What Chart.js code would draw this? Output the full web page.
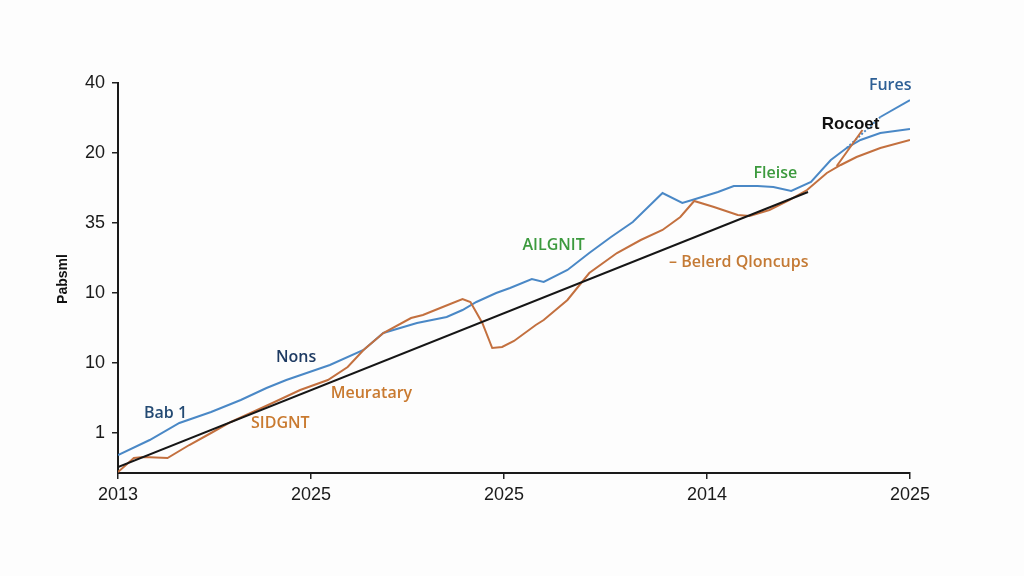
<!DOCTYPE html>
<html>
<head>
<meta charset="utf-8">
<title>Chart</title>
<script src="https://cdn.jsdelivr.net/npm/chart.js@4/dist/chart.umd.min.js"></script>
<style>
    html, body { margin: 0; padding: 0; background: #fdfdfd; }
    #wrap { width: 1024px; height: 576px; position: relative; }
</style>
</head>
<body>
<div id="wrap"><canvas id="chart"></canvas></div>
<script>
// axis labels (as printed on the picture)
const xTickValues = [0, 9.75, 19.5, 29.75, 40];
const xTickLabels = ['2013', '2025', '2025', '2014', '2025'];
const yTickValues = [4, 11, 18, 25, 32, 39];
const yTickLabels = ['1', '10', '10', '35', '20', '40'];
const yTitle = 'Pabsml';

// blue series
const blueX = [0, 1.6, 3.1, 4.7, 6.2, 7.5, 8.5, 10.7, 12.4, 13.4, 15.1, 16.6, 17.4, 18.1, 19.1, 19.8, 20.9, 21.5, 22.7, 23.8, 24.9, 26.0, 27.5, 28.5, 29.0, 30.3, 31.1, 32.3, 33.1, 34.0, 35.0, 36.0, 36.8, 37.5, 38.5, 40];
const blueY = [1.8, 3.3, 5.0, 6.1, 7.3, 8.5, 9.3, 10.8, 12.3, 14.0, 15.0, 15.6, 16.3, 17.1, 18.0, 18.5, 19.4, 19.1, 20.3, 22.0, 23.6, 25.1, 28.0, 27.0, 27.3, 28.1, 28.7, 28.7, 28.6, 28.2, 29.1, 31.3, 32.5, 33.3, 34.0, 34.4];

// upper blue branch ("Fures")
const furesX = [36.8, 38.5, 40];
const furesY = [32.5, 35.6, 37.3];

// orange series
const orangeX = [0, 0.8, 1.3, 2.5, 3.6, 4.7, 5.7, 6.7, 7.8, 9.2, 10.6, 11.6, 12.4, 13.4, 14.8, 15.4, 16.4, 17.4, 17.8, 18.4, 18.9, 19.4, 20.0, 21.1, 21.5, 22.7, 23.8, 25.2, 26.4, 27.5, 28.4, 29.1, 30.1, 31.3, 31.9, 32.9, 33.9, 34.8, 35.8, 36.5, 37.3, 38.5, 40];
const orangeY = [0.1, 1.5, 1.6, 1.5, 2.8, 4.0, 5.1, 6.0, 7.0, 8.3, 9.3, 10.6, 12.3, 14.0, 15.5, 15.8, 16.6, 17.4, 17.1, 15.0, 12.5, 12.6, 13.2, 14.8, 15.3, 17.3, 20.0, 22.0, 23.3, 24.3, 25.6, 27.2, 26.6, 25.8, 25.7, 26.3, 27.3, 28.3, 30.0, 30.8, 31.6, 32.5, 33.3];

// short orange pointer near "Rocoet"
const pointerX = [36.3, 37.6];
const pointerY = [30.7, 34.3];

// black trend line
const trendX = [0, 34.85];
const trendY = [0.6, 28.1];

// text labels placed in data units
const notes = [
    { text: 'Fures', x: 39.0, y: 38.8, color: '#2d5f95', weight: '600', size: 16 },
    { text: 'Rocoet', x: 37.0, y: 34.9, color: '#111111', weight: 'bold', size: 17 },
    { text: 'Fleise', x: 33.2, y: 30.0, color: '#3c9a3e', weight: '600', size: 16 },
    { text: 'AILGNIT', x: 22.0, y: 22.8, color: '#3c9a3e', weight: '600', size: 16 },
    { text: '– Belerd Qloncups', x: 27.83, y: 21.1, color: '#c47a35', weight: '600', size: 16, align: 'left' },
    { text: 'Nons', x: 9.0, y: 11.6, color: '#1e3a62', weight: '600', size: 16 },
    { text: 'Meuratary', x: 12.8, y: 8.0, color: '#c97a30', weight: '600', size: 16 },
    { text: 'SIDGNT', x: 8.2, y: 5.0, color: '#c97a30', weight: '600', size: 16 },
    { text: 'Bab 1', x: 2.4, y: 6.0, color: '#244a73', weight: '600', size: 16 }
];

function pts(xs, ys) {
    return xs.map((x, i) => ({ x: x, y: ys[i] }));
}

const FONT = "'Liberation Sans', Arial, sans-serif";
const NOTE_FONT = "'Open Sans', 'Liberation Sans', Arial, sans-serif";

// draws the free text and the y title
const notesPlugin = {
    id: 'notes',
    afterDatasetsDraw(chart) {
        const ctx = chart.ctx;
        const xs = chart.scales.x;
        const ys = chart.scales.y;
        ctx.save();
        ctx.textBaseline = 'middle';
        notes.forEach(n => {
            ctx.font = `${n.weight} ${n.size}px ${n.weight === 'bold' ? FONT : NOTE_FONT}`;
            ctx.fillStyle = n.color;
            ctx.textAlign = n.align || 'center';
            ctx.fillText(n.text, xs.getPixelForValue(n.x), ys.getPixelForValue(n.y));
        });

        // rotated axis title
        ctx.translate(63, ys.getPixelForValue(19.4));
        ctx.rotate(-Math.PI / 2);
        ctx.font = `bold 14px ${FONT}`;
        ctx.fillStyle = '#111';
        ctx.textAlign = 'center';
        ctx.fillText(yTitle, 0, 0);
        ctx.restore();
    }
};

const lineStyle = { borderWidth: 2, pointRadius: 0, tension: 0, fill: false };

new Chart(document.getElementById('chart'), {
    type: 'line',
    data: {
        datasets: [
            Object.assign({ data: pts(trendX, trendY), borderColor: '#161616' }, lineStyle),
            Object.assign({ data: pts(orangeX, orangeY), borderColor: '#c3703f' }, lineStyle),
            Object.assign({ data: pts(pointerX, pointerY), borderColor: '#c3703f' }, lineStyle),
            Object.assign({ data: pts(blueX, blueY), borderColor: '#4a88c6' }, lineStyle),
            Object.assign({
                data: pts(furesX, furesY),
                borderColor: '#4a88c6',
                segment: { borderDash: ctx => ctx.p0DataIndex === 0 ? [2, 2] : undefined }
            }, lineStyle)
        ]
    },
    options: {
        responsive: true,
        maintainAspectRatio: false,
        animation: false,
        layout: { padding: { top: 83, right: 114, bottom: 0, left: 0 } },
        plugins: { legend: { display: false }, tooltip: { enabled: false } },
        scales: {
            x: {
                type: 'linear',
                min: 0,
                max: 40,
                afterFit: s => { s.height = 103; },
                afterBuildTicks: s => { s.ticks = xTickValues.map(v => ({ value: v })); },
                grid: { drawOnChartArea: false, tickLength: 6, color: '#222', lineWidth: 1.5 },
                border: { color: '#1a1a1a', width: 2 },
                ticks: {
                    color: '#1a1a1a',
                    font: { family: FONT, size: 18 },
                    padding: 5,
                    maxRotation: 0,
                    autoSkip: false,
                    callback: (v, i) => xTickLabels[i]
                }
            },
            y: {
                type: 'linear',
                min: 0,
                max: 39,
                afterFit: s => { s.width = 118; },
                afterBuildTicks: s => { s.ticks = yTickValues.map(v => ({ value: v })); },
                grid: { drawOnChartArea: false, tickLength: 6, color: '#222', lineWidth: 1.5 },
                border: { color: '#1a1a1a', width: 2 },
                ticks: {
                    color: '#1a1a1a',
                    font: { family: FONT, size: 18 },
                    padding: 7,
                    autoSkip: false,
                    callback: (v, i) => yTickLabels[i]
                }
            }
        }
    },
    plugins: [notesPlugin]
});
</script>
</body>
</html>
